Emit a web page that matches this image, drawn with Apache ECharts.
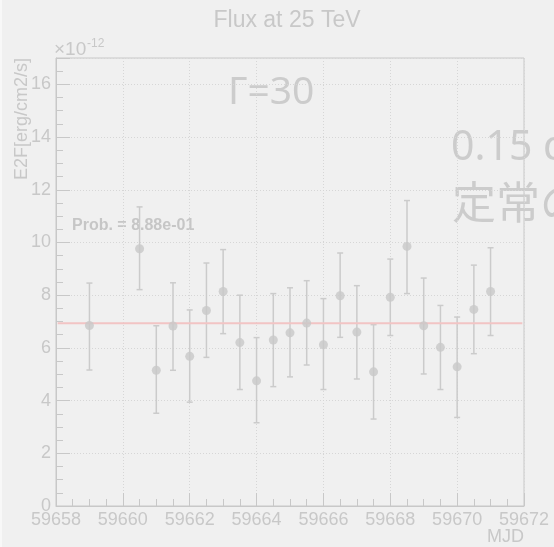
<!DOCTYPE html>
<html>
<head>
<meta charset="utf-8">
<script src="https://cdn.jsdelivr.net/npm/echarts@6/dist/echarts.min.js"></script>
<style>
  html, body { margin: 0; padding: 0; background: #f0f0f0; }
  #chart { width: 554px; height: 547px; }
</style>
</head>
<body>
<div id="chart"></div>
<script>
// Light curve: flux points (MJD) with asymmetric error bars and a constant fit
const mjd   = [59659, 59660.5, 59661, 59661.5, 59662, 59662.5, 59663, 59663.5, 59664, 59664.5, 59665, 59665.5,
               59666, 59666.5, 59667, 59667.5, 59668, 59668.5, 59669, 59669.5, 59670, 59670.5, 59671];
const flux  = [6.85, 9.76, 5.15, 6.83, 5.68, 7.42, 8.14, 6.20, 4.75, 6.30, 6.57, 6.94,
               6.12, 7.98, 6.60, 5.09, 7.92, 9.85, 6.84, 6.02, 5.28, 7.46, 8.14];
const upper = [8.46, 11.35, 6.84, 8.47, 7.44, 9.22, 9.73, 8.00, 6.39, 8.06, 8.28, 8.55,
               7.87, 9.60, 8.36, 6.88, 9.37, 11.59, 8.65, 7.61, 7.17, 9.14, 9.80];
const lower = [5.16, 8.21, 3.52, 5.15, 3.94, 5.64, 6.54, 4.42, 3.16, 4.53, 4.90, 5.35,
               4.42, 6.40, 4.82, 3.30, 6.47, 8.06, 5.01, 4.42, 3.36, 5.78, 6.47];
const fitLevel = 6.93;
const fitRange = [59658.05, 59671.95];

const xRange = [59658, 59672];
const yRange = [0, 17];

const grey = '#c8c8c8';
const font = '"Liberation Sans", Arial, sans-serif';

const points = mjd.map((x, i) => [x, flux[i]]);
const bars = mjd.map((x, i) => [x, lower[i], upper[i]]);
const fitLine = fitRange.map(x => [x, fitLevel]);

const chart = echarts.init(document.getElementById('chart'), null, { renderer: 'canvas' });

const majorX = {
  type: 'value', min: xRange[0], max: xRange[1], interval: 2,
  axisLine: { show: true, lineStyle: { color: grey, width: 1 } },
  axisTick: { show: true, inside: true, length: 13, lineStyle: { color: grey, width: 1 } },
  axisLabel: { show: true, color: grey, fontSize: 18, fontFamily: font, margin: 5,
               formatter: v => String(v) },
  splitLine: { show: true, lineStyle: { color: '#d6d6d6', type: [1, 2], width: 1 } }
};
const minorX = {
  type: 'value', min: xRange[0], max: xRange[1], interval: 0.5, position: 'bottom',
  axisLine: { show: false }, axisLabel: { show: false }, splitLine: { show: false },
  axisTick: { show: true, inside: true, length: 7, lineStyle: { color: grey, width: 1 } }
};
const majorY = {
  type: 'value', min: yRange[0], max: yRange[1], interval: 2,
  axisLine: { show: true, lineStyle: { color: grey, width: 1 } },
  axisTick: { show: true, inside: true, length: 14, lineStyle: { color: grey, width: 1 } },
  axisLabel: { show: true, color: grey, fontSize: 18, fontFamily: font, margin: 5,
               formatter: v => (v % 2 === 0 ? String(v) : '') },
  splitLine: { show: true, lineStyle: { color: '#d6d6d6', type: [1, 2], width: 1 } }
};
const minorY = {
  type: 'value', min: yRange[0], max: yRange[1], interval: 0.5, position: 'left',
  axisLine: { show: false }, axisLabel: { show: false }, splitLine: { show: false },
  axisTick: { show: true, inside: true, length: 7, lineStyle: { color: grey, width: 1 } }
};

chart.setOption({
  backgroundColor: '#f0f0f0',
  animation: false,
  grid: {
    left: 56, right: 30, top: 58, bottom: 41,
    show: true, borderColor: grey, borderWidth: 1, backgroundColor: 'transparent'
  },
  xAxis: [majorX, minorX],
  yAxis: [majorY, minorY],
  series: [
    {
      type: 'custom',
      xAxisIndex: 0, yAxisIndex: 0,
      data: bars,
      z: 2,
      renderItem: (params, api) => {
        const x = api.value(0);
        const lo = api.coord([x, api.value(1)]);
        const hi = api.coord([x, api.value(2)]);
        const cap = 3;
        const style = { stroke: '#cbcbcb', lineWidth: 1.5 };
        return {
          type: 'group',
          children: [
            { type: 'line', shape: { x1: lo[0], y1: lo[1], x2: hi[0], y2: hi[1] }, style },
            { type: 'line', shape: { x1: hi[0] - cap, y1: hi[1], x2: hi[0] + cap, y2: hi[1] }, style },
            { type: 'line', shape: { x1: lo[0] - cap, y1: lo[1], x2: lo[0] + cap, y2: lo[1] }, style }
          ]
        };
      }
    },
    {
      type: 'line',
      xAxisIndex: 0, yAxisIndex: 0,
      data: fitLine,
      showSymbol: false,
      z: 3,
      lineStyle: { color: '#f2c4c4', width: 2 }
    },
    {
      type: 'scatter',
      xAxisIndex: 0, yAxisIndex: 0,
      data: points,
      symbol: 'circle',
      symbolSize: 9,
      z: 4,
      itemStyle: { color: '#c8c8c8' }
    }
  ],
  graphic: [
    { type: 'rect', left: 0, top: 0, shape: { width: 2, height: 547 }, style: { fill: '#f8f8f8' }, silent: true },
    { type: 'text', x: 287, y: 21, style: { text: 'Flux at 25 TeV', font: '23px ' + font, fill: grey, textAlign: 'center', textVerticalAlign: 'middle' } },
    { type: 'text', x: 54, y: 50, style: { text: '×10', font: '19px ' + font, fill: grey, textAlign: 'left', textVerticalAlign: 'middle' } },
    { type: 'text', x: 87, y: 43.5, style: { text: '-12', font: '12px ' + font, fill: grey, textAlign: 'left', textVerticalAlign: 'middle' } },
    { type: 'text', x: 22.5, y: 58, rotation: Math.PI / 2, style: { text: 'E2F[erg/cm2/s]', font: '18px ' + font, fill: grey, textAlign: 'right', textVerticalAlign: 'middle' } },
    { type: 'text', x: 524, y: 537.5, style: { text: 'MJD', font: '18px ' + font, fill: grey, textAlign: 'right', textVerticalAlign: 'middle' } },
    { type: 'text', x: 72, y: 225.5, style: { text: 'Prob. = 8.88e-01', font: 'bold 16px ' + font, fill: '#c6c6c6', textAlign: 'left', textVerticalAlign: 'middle' } },
    { type: 'text', x: 228, y: 93, style: { text: 'Γ=30', font: '39px "Noto Sans", sans-serif', fill: '#cccccc', textAlign: 'left', textVerticalAlign: 'middle' } },
    { type: 'text', x: 451, y: 148.5, style: { text: '0.15 d', font: '41px "Noto Sans", sans-serif', fill: '#cccccc', textAlign: 'left', textVerticalAlign: 'middle' } },
    { type: 'text', x: 452, y: 202, style: { text: '定常の', font: '44px "Noto Sans CJK JP", sans-serif', fill: '#cccccc', textAlign: 'left', textVerticalAlign: 'middle' } }
  ]
});
</script>
</body>
</html>
